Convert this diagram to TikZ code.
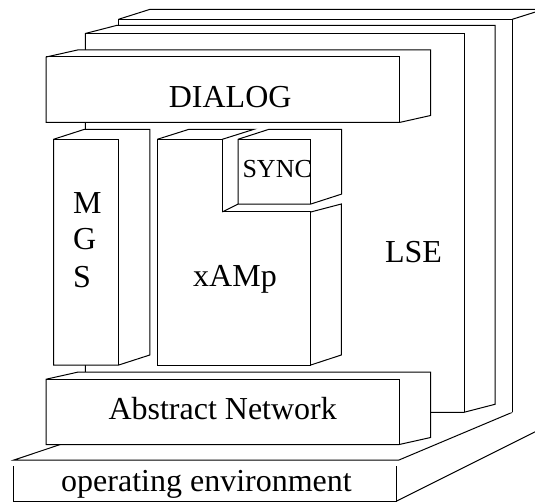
\documentclass[tikz,border=0pt]{standalone}
\usepackage{fontspec}
\setmainfont{Liberation Serif}
\tikzset{
  slab/.style={ % front, top and right face of a block
    draw=black, fill=white, line width=1pt, line join=miter
  },
  outline/.style={ % plain block edges
    black, line width=1pt, line join=miter
  },
  bigtext/.style={
    font=\fontsize{32}{37}\selectfont, inner sep=0pt
  },
  smalltext/.style={
    font=\fontsize{26}{30}\selectfont, inner sep=0pt
  }
}
% block: front corners (#1,#2)-(#3,#4), depth #5 to the right, #6 up
\newcommand{\drawslab}[6]{
  \filldraw[slab] (#1,#2) -- ({#1+#5},{#2-#6}) -- ({#3+#5},{#2-#6})
    -- ({#3+#5},{#4-#6}) -- (#3,#4) -- (#1,#4) -- cycle;
  \draw[outline] (#1,#2) -- (#3,#2) -- (#3,#4);
}

\begin{document}
\begin{tikzpicture}[x=1pt, y=-1pt]
  \useasboundingbox (0,0) rectangle (535,502);
  \clip (0,0) rectangle (535,502);

  % operating environment
  \draw[outline] (100,431.2) -- (14,460) -- (399,460) -- (512.3,412.3);
  \draw[outline] (13.3,466) -- (13.3,501) -- (396.7,501) -- (396.7,466);
  \draw[outline] (396.7,501) -- (570,414.3);

  % back panel of LSE
  \fill[white] (118.5,19.3) -- (149.5,9.5) -- (543.3,9.5) -- (543.3,402.5)
    -- (512.3,412.3) -- (118.5,412.3) -- cycle;
  \draw[outline] (118.5,412.3) -- (118.5,19.3) -- (512.3,19.3) -- (512.3,412.3);
  \draw[outline] (118.5,19.3) -- (149.5,9.5) -- (543.3,9.5) -- (543.3,402.5);
  \draw[outline] (512.3,19.3) -- (543.3,9.5);

  \drawslab{85.3}{33.5}{464}{412.3}{31}{8}       % LSE
  \drawslab{46.2}{57}{399.3}{122.5}{31.3}{7}     % DIALOG
  \drawslab{53.5}{139.3}{118.8}{365}{31}{10}     % MGS

  % xAMp, cut out for SYNC
  \fill[white] (157.3,139.3) -- (189,129.3) -- (254,129.3) -- (254,204)
    -- (341.3,204) -- (341.3,355) -- (310.8,365) -- (157.3,365) -- cycle;
  \draw[outline] (157.3,139.3) -- (222.3,139.3) -- (222.3,212) -- (310.8,212)
    -- (310.8,365) -- (157.3,365) -- cycle;
  \drawslab{238}{139.3}{310.6}{204.1}{31}{10}    % SYNC
  \draw[outline] (157.3,139.3) -- (189,129.3) -- (254,129.3) -- (222.3,139.3);
  \draw[outline] (222.3,212) -- (238,204.1);
  \draw[outline] (310.8,212) -- (341.3,204) -- (341.3,355) -- (310.8,365);

  \drawslab{46.2}{379.2}{399.3}{444.5}{31.3}{7}  % Abstract Network

  \node[bigtext, anchor=base] (dialog) at (230.2,107.5) {DIALOG};
  \node[bigtext, anchor=base west] (mgs_m) at (73,213.7) {M};
  \node[bigtext, anchor=base west] (mgs_g) at (73,250) {G};
  \node[bigtext, anchor=base west] (mgs_s) at (73,287.7) {S};
  \node[bigtext, anchor=base] (xamp) at (235,287) {xAMp};
  \node[smalltext, anchor=base] (sync) at (277.2,177.3) {SYNC};
  \node[bigtext, anchor=base] (lse) at (413.5,262.8) {LSE};
  \node[bigtext, anchor=base] (absnet) at (222.7,419.2) {Abstract Network};
  \node[bigtext, anchor=base] (openv) at (206.5,491) {operating environment};
\end{tikzpicture}
\end{document}
